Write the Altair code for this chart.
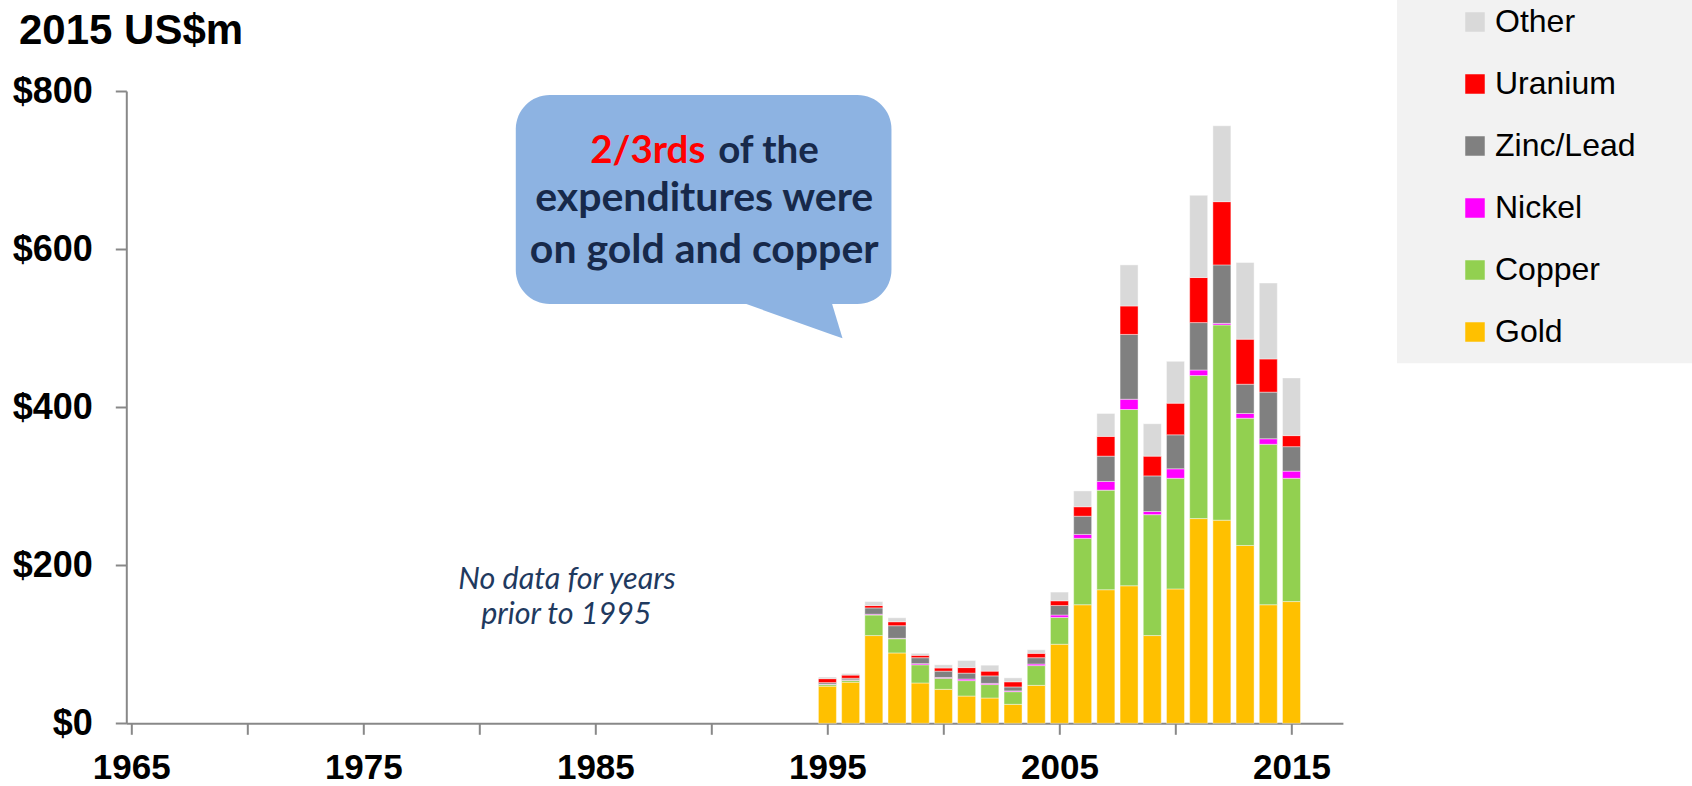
import altair as alt
import pandas as pd

# Annual exploration expenditure by commodity, 2015 US$m
years = list(range(1995, 2016))
gold = [47, 52, 111, 89, 51, 43, 34.5, 32, 24, 48, 100, 150, 169, 174, 111, 170, 259, 257, 225, 150, 154]
copper = [2, 2.5, 26, 18, 23, 14, 19.5, 17, 16, 25, 34, 84, 126, 223, 153, 140, 181, 247, 161, 203, 156]
nickel = [0.5, 0.5, 1, 0.5, 1.5, 1, 2, 1.5, 1, 2, 3, 5, 11, 13, 4, 12, 7, 2, 6, 7, 9]
zinc_lead = [2, 2, 8, 16, 7.5, 8, 7.5, 9.5, 5, 8, 12, 23, 32, 82, 45, 43, 60, 74, 37, 59, 31]
uranium = [5, 4, 3, 5, 3, 4, 7, 6, 6.5, 5.5, 6, 12, 25, 36, 25, 40, 57, 80, 57, 42, 14]
other = [2, 2, 5, 5, 2.5, 4, 9, 7.5, 5, 4.5, 11, 20, 29, 52, 41, 53, 104, 96, 97, 96, 73]

# stacking order, bottom to top
stack_names = ["Gold", "Copper", "Nickel", "Zinc/Lead", "Uranium", "Other"]
stack_values = [gold, copper, nickel, zinc_lead, uranium, other]
# legend order, top to bottom, with matching colours
legend_names = ["Other", "Uranium", "Zinc/Lead", "Nickel", "Copper", "Gold"]
legend_colors = ["#d9d9d9", "#ff0000", "#808080", "#ff00ff", "#92d050", "#ffc000"]

x_ticks = list(range(1965, 2016, 5))
y_ticks = [0, 200, 400, 600, 800]

rows = []
for rank, (name, vals) in enumerate(zip(stack_names, stack_values)):
    for yr, v in zip(years, vals):
        rows.append({"year": yr, "commodity": name, "value": v, "rank": rank})
df = pd.DataFrame(rows)

W, H = 1216.6, 632.3
PAD = {"left": 126.3, "top": 91, "right": 1692 - 126.3 - W, "bottom": 786 - 91 - H}

x_scale = alt.Scale(domain=[1965, 2017], nice=False, zero=False)
y_scale = alt.Scale(domain=[0, 800], nice=False)

AXIS_FONT = "Liberation Sans, Arial, sans-serif"

bars = alt.Chart(df).mark_bar(width=18, stroke="white", strokeWidth=0.6, strokeOpacity=0.7).encode(
    x=alt.X("year:Q", scale=x_scale,
            axis=alt.Axis(title=None, values=x_ticks, format="d",
                          labelExpr="datum.value % 10 == 5 ? datum.label : ''",
                          grid=False, tickSize=11, tickWidth=2, tickColor="#888888",
                          domainColor="#888888", domainWidth=2,
                          labelFont=AXIS_FONT, labelFontSize=35, labelFontWeight="bold",
                          labelColor="#000000", labelPadding=16, labelFlush=False,
                          labelOverlap=False)),
    y=alt.Y("value:Q", stack="zero", scale=y_scale,
            axis=alt.Axis(title=None, values=y_ticks, labelExpr="'$' + datum.value",
                          grid=False, tickSize=11, tickWidth=2, tickColor="#888888",
                          domainColor="#888888", domainWidth=2,
                          labelFont=AXIS_FONT, labelFontSize=36, labelFontWeight="bold",
                          labelColor="#000000", labelPadding=23)),
    color=alt.Color("commodity:N",
                    scale=alt.Scale(domain=legend_names, range=legend_colors),
                    legend=alt.Legend(title=None, orient="none", legendX=1332.7, legendY=-85,
                                      symbolType="square", symbolSize=380, symbolStrokeWidth=0,
                                      labelFont=AXIS_FONT,
                                      labelFontSize=32, labelColor="#000000", labelOffset=4,
                                      rowPadding=30, padding=0, labelLimit=400)),
    order=alt.Order("rank:Q", sort="ascending"),
)

# grey panel behind the legend
legend_panel = alt.Chart(pd.DataFrame({"k": [0]})).mark_rect(color="#f2f2f2").encode(
    x=alt.value(1270.7), x2=alt.value(1566), y=alt.value(-92), y2=alt.value(272.3)
)

# speech bubble: rounded box plus a pointer toward the recent bars
bubble = pd.DataFrame({"x": [1981.57], "x2": [1997.76], "y": [794.8], "y2": [530.4]})
bubble_box = alt.Chart(bubble).mark_rect(color="#8db3e2", cornerRadius=34).encode(
    x=alt.X("x:Q", scale=x_scale), x2="x2:Q",
    y=alt.Y("y:Q", scale=y_scale), y2="y2:Q",
)
pointer = pd.DataFrame({"x": [1991.02, 1995.15, 1995.65],
                        "top": [535.5, 535.5, 487.1],
                        "bottom": [535.5, 492.3, 487.1]})
bubble_tail = alt.Chart(pointer).mark_area(color="#8db3e2", interpolate="linear").encode(
    x=alt.X("x:Q", scale=x_scale), y=alt.Y("top:Q", scale=y_scale), y2="bottom:Q",
)

CALLOUT_FONT = "Lato, Open Sans, sans-serif"
NAVY = "#17294a"

def note(text, x, y, align, color, size, weight="bold", style="normal", font=CALLOUT_FONT):
    return alt.Chart(pd.DataFrame({"t": [text], "x": [x], "y": [y]})).mark_text(
        align=align, baseline="alphabetic", font=font, fontSize=size,
        fontWeight=weight, fontStyle=style, color=color,
    ).encode(x=alt.X("x:Q", scale=x_scale), y=alt.Y("y:Q", scale=y_scale), text="t:N")

callout_texts = [
    note("2/3rds", 1989.74, 709.3, "right", "#ff0000", 38.5),
    note("of the", 1990.29, 709.3, "left", NAVY, 38.5),
    note("expenditures were", 1989.69, 648.2, "center", NAVY, 41),
    note("on gold and copper", 1989.69, 582.8, "center", NAVY, 41),
]

no_data = [
    note("No data for years", 1983.78, 170, "center", "#1f3a5f", 30.5, weight="normal", style="italic"),
    note("prior to 1995", 1983.75, 126, "center", "#1f3a5f", 30.5, weight="normal", style="italic"),
]

unit_title = alt.Chart(pd.DataFrame({"t": ["2015 US$m"]})).mark_text(
    align="left", baseline="alphabetic", font=AXIS_FONT, fontSize=42, fontWeight="bold", color="#000000"
).encode(x=alt.value(19 - 126.3), y=alt.value(43.5 - 91), text="t:N")

chart = alt.layer(
    legend_panel, bars, bubble_tail, bubble_box, *callout_texts, *no_data, unit_title
).properties(
    width=W, height=H,
    autosize=alt.AutoSizeParams(type="none"),
    padding=PAD,
).configure(background="white").configure_view(strokeWidth=0, stroke=None)

chart.save("out.html", embed_options={"renderer": "svg", "actions": False})
